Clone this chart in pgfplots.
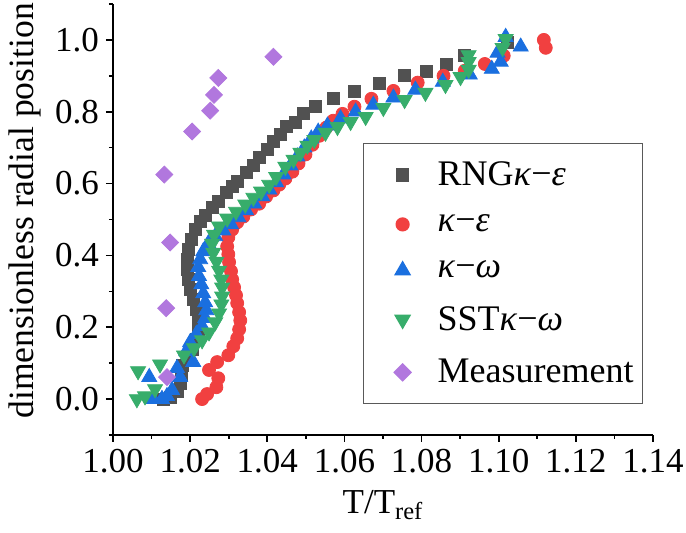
\documentclass[border=0pt]{standalone}
\usepackage{pgfplots}
\pgfplotsset{compat=1.18}
\usepackage{fontspec}
\setmainfont{Liberation Serif}
\definecolor{cgray}{HTML}{515151}
\definecolor{cred}{HTML}{F14040}
\definecolor{cblue}{HTML}{1A6FDF}
\definecolor{cgreen}{HTML}{37AD6B}
\definecolor{cpurple}{HTML}{B177DE}
\newcommand{\fs}{\fontsize{17.5}{21}\selectfont}
\newcommand{\lfs}{\fontsize{18}{21}\selectfont}
\begin{document}
\begin{tikzpicture}[font=\fs]
\begin{axis}[
  scale only axis, width=270pt, height=215.5pt,
  xmin=1.00, xmax=1.14, ymin=-0.1, ymax=1.1,
  axis lines*=left,
  axis line style={line width=0.8pt},
  every tick/.style={black, line width=0.8pt},
  tick align=outside,
  major tick length=3.5pt, minor tick length=2pt,
  xtick={1.00,1.02,...,1.14}, minor x tick num=1,
  ytick={0,0.2,...,1.0}, minor y tick num=1,
  extra y ticks={-0.1,1.1}, extra y tick labels={},
  extra y tick style={major tick length=2pt},
  xticklabel style={/pgf/number format/.cd, fixed, fixed zerofill, precision=2},
  yticklabel style={/pgf/number format/.cd, fixed, fixed zerofill, precision=1},
  /pgf/number format/assume math mode=true,
  ticklabel style={font=\fs},
  xlabel={T/T\textsubscript{ref}},
  ylabel={dimensionless radial position},
  every axis x label/.style={at={(axis description cs:0.5,-0.183)}, anchor=base},
  every axis y label/.style={at={(axis description cs:-0.163,0.52)}, rotate=90, anchor=center, font=\fontsize{17.8}{21}\selectfont},
  legend image code/.code={\path[draw=none,fill=none] (0pt,0pt) -- (32.5pt,0pt); \draw[#1] plot coordinates {(18pt,0pt)};},
  legend style={at={(axis description cs:0.463,0.6775)}, anchor=north west,
    draw=gray!70!black, line width=0.6pt, font=\lfs, row sep=9pt,
    inner xsep=1.5pt, inner ysep=7pt, nodes={inner xsep=3pt}},
  legend cell align=left,
]
\addplot[only marks, mark=square*, mark size=3pt, color=cgray] coordinates {
(1.0130,0.000)(1.0148,0.006)(1.0166,0.022)(1.0174,0.044)(1.0177,0.069)(1.0179,0.094)
(1.0192,0.117)(1.0205,0.139)(1.0216,0.167)(1.0221,0.194)(1.0221,0.222)(1.0216,0.250)
(1.0208,0.278)(1.0200,0.306)(1.0195,0.333)(1.0192,0.361)(1.0192,0.389)(1.0195,0.417)
(1.0203,0.444)(1.0213,0.472)(1.0226,0.494)(1.0239,0.511)(1.0257,0.533)(1.0273,0.550)
(1.0294,0.575)(1.0309,0.592)(1.0322,0.606)(1.0345,0.631)(1.0364,0.650)(1.0379,0.672)
(1.0400,0.694)(1.0416,0.717)(1.0434,0.736)(1.0449,0.758)(1.0473,0.769)(1.0494,0.794)
(1.0525,0.814)(1.0571,0.836)(1.0626,0.856)(1.0691,0.878)(1.0756,0.900)(1.0813,0.911)
(1.0865,0.933)(1.0912,0.956)(1.1023,0.994)
};
\addlegendentry{RNG\textit{κ}−\textit{ε}}
\addplot[only marks, mark=*, mark size=3.25pt, color=cred] coordinates {
(1.0231,0.000)(1.0244,0.014)(1.0268,0.033)(1.0273,0.058)(1.0249,0.081)(1.0270,0.103)
(1.0299,0.122)(1.0312,0.147)(1.0322,0.169)(1.0327,0.194)(1.0330,0.219)(1.0327,0.242)
(1.0322,0.267)(1.0319,0.289)(1.0314,0.311)(1.0309,0.333)(1.0306,0.356)(1.0301,0.381)
(1.0299,0.403)(1.0296,0.425)(1.0299,0.450)(1.0309,0.472)(1.0322,0.492)(1.0338,0.508)
(1.0358,0.528)(1.0379,0.544)(1.0397,0.564)(1.0416,0.581)(1.0431,0.597)(1.0447,0.614)
(1.0465,0.633)(1.0481,0.656)(1.0499,0.681)(1.0517,0.708)(1.0535,0.733)(1.0553,0.756)
(1.0571,0.775)(1.0595,0.794)(1.0626,0.814)(1.0670,0.836)(1.0727,0.858)(1.0790,0.881)
(1.0857,0.900)(1.0912,0.914)(1.0964,0.933)(1.1013,0.956)(1.1117,1.000)(1.1122,0.978)
};
\addlegendentry{\textit{κ}−\textit{ε}}
\addplot[only marks, mark=triangle*, mark size=4.33pt, color=cblue] coordinates {
(1.0104,0.000)(1.0127,0.000)(1.0140,0.008)(1.0153,0.025)(1.0094,0.061)(1.0174,0.061)
(1.0166,0.086)(1.0208,0.103)(1.0190,0.133)(1.0200,0.158)(1.0216,0.181)(1.0231,0.203)
(1.0239,0.225)(1.0242,0.247)(1.0239,0.269)(1.0234,0.294)(1.0229,0.319)(1.0223,0.342)
(1.0221,0.367)(1.0226,0.389)(1.0234,0.411)(1.0247,0.433)(1.0265,0.453)(1.0286,0.469)
(1.0306,0.486)(1.0325,0.506)(1.0345,0.525)(1.0366,0.544)(1.0387,0.564)(1.0405,0.583)
(1.0423,0.603)(1.0442,0.625)(1.0460,0.650)(1.0478,0.675)(1.0496,0.700)(1.0514,0.725)
(1.0532,0.744)(1.0556,0.761)(1.0590,0.781)(1.0629,0.800)(1.0675,0.819)(1.0727,0.839)
(1.0784,0.861)(1.0855,0.883)(1.0925,0.903)(1.0982,0.919)(1.1005,0.939)(1.0997,0.964)
(1.1018,1.008)(1.1057,0.981)
};
\addlegendentry{\textit{κ}−\textit{ω}}
\addplot[only marks, mark=triangle*, mark size=4.33pt, mark options={rotate=180}, color=cgreen] coordinates {
(1.0062,0.000)(1.0083,0.008)(1.0109,0.028)(1.0065,0.078)(1.0122,0.097)(1.0184,0.122)
(1.0210,0.142)(1.0231,0.164)(1.0249,0.186)(1.0265,0.214)(1.0275,0.239)(1.0281,0.264)
(1.0283,0.286)(1.0283,0.311)(1.0281,0.333)(1.0275,0.358)(1.0268,0.383)(1.0260,0.408)
(1.0257,0.433)(1.0262,0.458)(1.0275,0.481)(1.0296,0.503)(1.0319,0.522)(1.0343,0.542)
(1.0364,0.561)(1.0384,0.578)(1.0405,0.597)(1.0423,0.619)(1.0447,0.647)(1.0468,0.667)
(1.0486,0.686)(1.0504,0.706)(1.0522,0.722)(1.0551,0.742)(1.0582,0.758)(1.0616,0.772)
(1.0655,0.786)(1.0701,0.811)(1.0756,0.833)(1.0810,0.853)(1.0862,0.875)(1.0901,0.897)
(1.0922,0.917)(1.0922,0.939)(1.0922,0.958)(1.1010,0.978)(1.1018,1.003)
};
\addlegendentry{SST\textit{κ}−\textit{ω}}
\addplot[only marks, mark=square*, mark size=3pt, mark options={rotate=45}, color=cpurple] coordinates {
(1.0140,0.061)(1.0138,0.253)(1.0148,0.436)(1.0133,0.625)(1.0205,0.745)(1.0252,0.803)
(1.0262,0.847)(1.0273,0.894)(1.0416,0.953)
};
\addlegendentry{Measurement}
\end{axis}
\pgfresetboundingbox
\path (-56.5pt,-49pt) rectangle (286.5pt,217.5pt);
\end{tikzpicture}
\end{document}
